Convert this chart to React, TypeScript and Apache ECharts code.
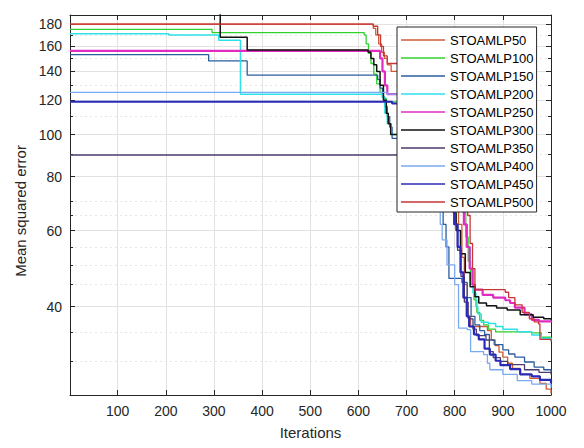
import React, { useEffect, useRef } from "react";
import * as echarts from "echarts";

const seriesNames = [
  "STOAMLP50", "STOAMLP100", "STOAMLP150", "STOAMLP200", "STOAMLP250",
  "STOAMLP300", "STOAMLP350", "STOAMLP400", "STOAMLP450", "STOAMLP500",
];
const xTicks = [100, 200, 300, 400, 500, 600, 700, 800, 900, 1000];
const yTicks = [40, 60, 80, 100, 120, 140, 160, 180];
const yMinorTicks = [30, 35, 45, 50, 55, 65, 70, 90, 110, 130, 150, 170];

const s50 = [[1,180],[631,176],[636,170],[642,162],[648,155],[654,150],[660,145],[668,140],[690,120],[720,100],[760,80],[790,70],[808,62],[815,52],[820,45],[826,38],[833,36],[868,35.2],[876,33.5],[884,32.5],[892,31.4],[900,30.6],[910,29.6],[920,28.8],[936,27.9],[956,27.3],[977,26.6],[990,25.8],[1000,25.2]];
const s100 = [[1,175],[296,172],[612,170],[616,162],[621,154],[626,146],[632,138],[638,131],[645,125],[652,121],[658,119],[760,100],[800,80],[812,75],[818,66],[823,58],[828,51],[833,45],[840,41.5],[846,38.8],[852,37.2],[860,36.3],[870,35.5],[885,35.0],[960,34.8],[980,34.0],[1000,33.6]];
const s150 = [[1,153],[289,148],[369,137.2],[640,134],[645,128],[650,122],[655,116],[660,110],[665,104],[670,98],[700,85],[750,70],[776,62],[782,55],[788,46.5],[815,45.5],[826,42],[834,38],[842,36.3],[852,35.2],[862,34.5],[872,33.5],[882,32.7],[900,31.8],[912,31.1],[925,30.6],[945,29.8],[965,29.0],[985,28.6],[1000,28.3]];
const s200 = [[1,171],[206,170],[310,165.3],[355,124],[650,122],[655,112],[660,106],[668,100],[700,90],[780,72],[814,70],[820,62],[826,55],[832,49],[838,43],[844,40],[848,38.5],[855,36.8],[870,36.6],[885,36.0],[900,35.5],[930,35.0],[960,34.4],[980,33.8],[1000,33.3]];
const s250 = [[1,156.2],[645,150],[650,140],[655,130],[660,124],[760,100],[805,80],[813,70],[819,62],[825,55],[831,49],[837,45],[842,43.8],[858,42.6],[880,42.0],[905,41.4],[915,40.8],[925,39.8],[945,38.4],[960,37.3],[975,37.0],[1000,36.8]];
const s300 = [[1,195],[313,168],[369,156.8],[620,155],[626,150],[632,145],[638,140],[645,130],[652,120],[658,112],[662,106],[667,100],[700,90],[780,72],[797,66],[803,60],[812,53],[822,48],[832,44.5],[842,42.2],[850,40.8],[866,40.2],[887,39.7],[909,39.3],[936,38.3],[963,37.8],[985,37.5],[1000,37.3]];
const s350 = [[1,89.7],[700,88],[760,75],[790,68],[798,62],[806,54],[813,47],[820,41],[828,37.5],[838,35.5],[845,34.3],[865,33.5],[872,31.5],[880,30.5],[895,29.9],[910,29.4],[945,28.6],[975,28.2],[1000,27.9]];
const s400 = [[1,125.2],[660,124],[700,100],[760,70],[770,62],[774,57.1],[784,50],[800,45],[808,35.7],[826,35.4],[833,31.5],[860,31.0],[868,29.6],[873,28.6],[900,27.9],[930,27.0],[960,26.5],[1000,26.0]];
const s450 = [[1,119.1],[670,118],[720,100],[770,80],[790,70],[800,62],[806,55],[812,48],[818,42],[825,38],[830,36],[840,34.5],[850,33.6],[862,32],[873,31.0],[885,30.0],[895,29.3],[915,28.7],[936,27.9],[960,27.6],[977,27.1],[1000,26.6]];
const s500 = [[1,180],[631,178],[640,170],[646,160],[652,152],[660,146],[740,120],[790,95],[818,80],[822,74],[827,65],[832,56],[837,49],[842,43.8],[905,43.2],[912,42],[925,40.4],[940,38.8],[955,37.5],[965,36.9],[974,36.5],[977,33.6],[1000,33.3]];

const seriesData = [s50, s100, s150, s200, s250, s300, s350, s400, s450, s500];
const seriesColors = ["#cf5a34", "#2fd22f", "#2b5d9e", "#2ee0e8", "#e02cc0", "#111111", "#4b3b6b", "#7aaaf2", "#2a2ab8", "#c83535"];
const seriesWidths = [1.3, 1.3, 1.3, 1.5, 2.2, 1.5, 1.3, 1.3, 2.2, 1.3];

export default function App() {
  const ref = useRef<HTMLDivElement>(null);
  useEffect(() => {
    const chart = echarts.init(ref.current!, null, { renderer: "svg" });
    const font = "'Liberation Sans', Arial, Helvetica, sans-serif";
    const axisColor = "#262626";
    const yBase = { type: "log", logBase: 10, min: 25, max: 189 };
    const xBase = { type: "value", min: 1, max: 1000 };
    chart.setOption({
      animation: false,
      backgroundColor: "#ffffff",
      grid: { left: 70, right: 33, top: 15, bottom: 53 },
      legend: {
        data: seriesNames,
        orient: "vertical",
        left: 397,
        top: 27,
        backgroundColor: "#ffffff",
        borderColor: axisColor,
        borderWidth: 1,
        padding: [6, 3, 3, 4],
        icon: "rect",
        itemWidth: 44,
        itemHeight: 1.4,
        itemGap: 4,
        selectedMode: false,
        textStyle: { fontSize: 13, lineHeight: 14, color: "#000", fontFamily: font },
      },
      xAxis: [
        {
          ...xBase,
          position: "bottom",
          name: "Iterations",
          nameLocation: "middle",
          nameGap: 30,
          nameTextStyle: { fontSize: 15, color: axisColor, fontFamily: font },
          axisLine: { show: true, lineStyle: { color: axisColor, width: 1 } },
          axisTick: { show: true, inside: true, length: 5, customValues: xTicks, lineStyle: { color: axisColor } },
          axisLabel: { customValues: xTicks, fontSize: 14, color: axisColor, fontFamily: font, margin: 9, formatter: (v: number) => String(Math.round(v)) },
          splitLine: { show: true, lineStyle: { color: "#e2e2e2", width: 1 } },
        },
        {
          ...xBase,
          position: "top",
          axisLine: { show: true, lineStyle: { color: axisColor, width: 1 } },
          axisTick: { show: true, inside: true, length: 5, customValues: xTicks, lineStyle: { color: axisColor } },
          axisLabel: { show: false },
          splitLine: { show: false },
        },
      ],
      yAxis: [
        {
          ...yBase,
          position: "left",
          name: "Mean squared error",
          nameLocation: "middle",
          nameGap: 38,
          nameTextStyle: { fontSize: 15, color: axisColor, fontFamily: font, padding: [0, 12, 0, 0] },
          axisLine: { show: true, lineStyle: { color: axisColor, width: 1 } },
          axisTick: { show: true, inside: true, length: 5, customValues: yTicks, lineStyle: { color: axisColor } },
          axisLabel: { customValues: yTicks, fontSize: 14, color: axisColor, fontFamily: font, margin: 8, formatter: (v: number) => String(Math.round(v)) },
          splitLine: { show: true, lineStyle: { color: "#e2e2e2", width: 1 } },
          minorTick: { show: false },
        },
        {
          ...yBase,
          position: "left",
          axisLine: { show: false },
          axisTick: { show: true, inside: true, length: 3, customValues: yMinorTicks, lineStyle: { color: axisColor } },
          axisLabel: { show: false },
          splitLine: { show: true, lineStyle: { color: "#e6e6e6", width: 1, type: [2, 3] } },
        },
        {
          ...yBase,
          position: "right",
          axisLine: { show: true, lineStyle: { color: axisColor, width: 1 } },
          axisTick: { show: true, inside: true, length: 5, customValues: yTicks, lineStyle: { color: axisColor } },
          axisLabel: { show: false },
          splitLine: { show: false },
        },
        {
          ...yBase,
          position: "right",
          axisLine: { show: false },
          axisTick: { show: true, inside: true, length: 3, customValues: yMinorTicks, lineStyle: { color: axisColor } },
          axisLabel: { show: false },
          splitLine: { show: false },
        },
      ],
      series: seriesNames.map((name, i) => ({
        name,
        type: "line",
        step: "end",
        symbol: "none",
        xAxisIndex: 0,
        yAxisIndex: 0,
        clip: true,
        color: seriesColors[i],
        lineStyle: { color: seriesColors[i], width: seriesWidths[i] },
        data: seriesData[i],
      })),
    });
    return () => chart.dispose();
  }, []);
  return <div ref={ref} style={{ position: "fixed", left: 0, top: 0, width: 584, height: 448 }} />;
}
